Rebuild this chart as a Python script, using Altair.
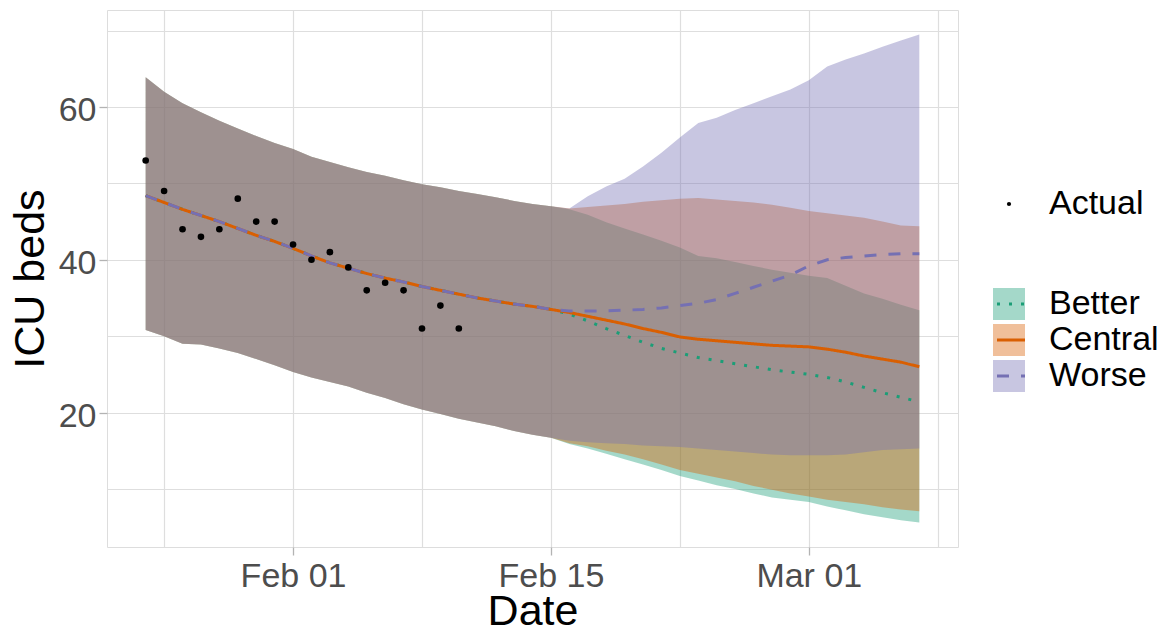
import altair as alt
import pandas as pd

# ---------------- data ----------------
scenarios = ["Better", "Central", "Worse"]
scen_colors = ["#1B9E77", "#D95F02", "#7570B3"]
scen_dashes = [[3, 9], [1, 0], [12, 12]]

# shared history (Jan 24 .. Feb 15, daily)
hist_start = "2021-01-24"
hist_mid = [48.4, 47.5, 46.6, 45.8, 45.0, 44.1, 43.2, 42.4, 41.5, 40.5, 39.6, 38.9,
            38.2, 37.6, 37.1, 36.5, 36.0, 35.5, 35.0, 34.6, 34.2, 33.9, 33.5]
hist_lo = [30.8, 30.0, 29.0, 28.9, 28.4, 27.8, 27.0, 26.2, 25.3, 24.6, 24.0, 23.4,
           22.6, 21.9, 21.1, 20.4, 19.8, 19.2, 18.7, 18.2, 17.6, 17.1, 16.7]
hist_hi = [63.9, 62.0, 60.5, 59.3, 58.2, 57.2, 56.2, 55.3, 54.5, 53.5, 52.8, 52.1,
           51.5, 51.0, 50.4, 49.9, 49.5, 49.0, 48.6, 48.2, 47.7, 47.3, 47.0]

# scenario projections (Feb 16 .. Mar 7, daily)
proj_start = "2021-02-16"
better_mid = [32.9, 32.0, 31.0, 30.1, 29.2, 28.4, 27.8, 27.2, 26.8, 26.4, 26.0, 25.6,
              25.3, 25.0, 24.6, 24.0, 23.3, 22.6, 22.0, 21.4]
better_lo = [15.9, 15.3, 14.6, 13.9, 13.2, 12.5, 11.7, 11.1, 10.5, 10.0, 9.4, 8.9,
             8.6, 8.3, 7.7, 7.2, 6.7, 6.3, 5.9, 5.6]
better_hi = [46.6, 45.9, 44.9, 44.1, 43.3, 42.5, 41.6, 40.5, 40.2, 39.7, 39.2, 38.7,
             38.3, 37.9, 37.6, 36.6, 35.6, 34.9, 34.1, 33.4]
central_mid = [33.1, 32.6, 32.1, 31.6, 31.0, 30.5, 29.9, 29.6, 29.4, 29.2, 29.0, 28.8,
               28.7, 28.6, 28.3, 27.9, 27.4, 27.0, 26.6, 26.0]
central_lo = [16.0, 15.6, 15.0, 14.5, 13.9, 13.2, 12.5, 12.0, 11.5, 11.0, 10.4, 9.9,
              9.4, 9.0, 8.6, 8.3, 8.0, 7.6, 7.3, 7.1]
central_hi = [46.7, 46.9, 47.1, 47.3, 47.6, 47.8, 48.0, 48.1, 47.9, 47.7, 47.5, 47.2,
              46.8, 46.4, 46.1, 45.8, 45.5, 45.0, 44.5, 44.4]
worse_mid = [33.3, 33.3, 33.3, 33.4, 33.5, 33.7, 34.0, 34.3, 34.8, 35.6, 36.4, 37.2,
             38.0, 39.2, 40.0, 40.3, 40.5, 40.7, 40.8, 40.8]
worse_lo = [16.3, 16.1, 16.0, 15.9, 15.7, 15.6, 15.5, 15.3, 15.1, 14.9, 14.7, 14.5,
            14.4, 14.4, 14.4, 14.5, 14.8, 15.1, 15.2, 15.3]
worse_hi = [46.7, 48.3, 49.6, 50.6, 52.2, 54.0, 56.0, 57.9, 58.6, 59.6, 60.5, 61.4,
            62.3, 63.5, 65.3, 66.2, 67.0, 67.9, 68.7, 69.5]

# observed ICU beds (Jan 24 .. Feb 10, daily)
actual_start = "2021-01-24"
actual_beds = [53, 49, 44, 43, 44, 48, 45, 45, 42, 40, 41, 39, 36, 37, 36, 31, 34, 31]

# axis tick positions
x_grid_dates = ["2021-01-25", "2021-02-01", "2021-02-08", "2021-02-15",
                "2021-02-22", "2021-03-01", "2021-03-08"]
y_grid_values = [10, 20, 30, 40, 50, 60, 70]

# ---------------- tables ----------------
def days(start, n):
    return pd.date_range(start, periods=n, freq="D").strftime("%Y-%m-%d").tolist()

proj = {
    "Better": (better_lo, better_mid, better_hi),
    "Central": (central_lo, central_mid, central_hi),
    "Worse": (worse_lo, worse_mid, worse_hi),
}
rows = []
hd = days(hist_start, len(hist_mid))
for s in scenarios:
    lo, mid, hi = proj[s]
    pdays = days(proj_start, len(mid))
    for d, a, m, b in zip(hd + pdays, hist_lo + lo, hist_mid + mid, hist_hi + hi):
        rows.append({"date": d, "scenario": s, "lo": a, "mid": m, "hi": b})
bands = pd.DataFrame(rows)

actual = pd.DataFrame({"date": days(actual_start, len(actual_beds)),
                       "beds": actual_beds, "series": "Actual"})

def ms(d):
    return int(pd.Timestamp(d, tz="UTC").value // 10**6)

all_ms = [ms(d) for d in bands["date"]]
span = max(all_ms) - min(all_ms)
x_dom = [min(all_ms) - 0.05 * span, max(all_ms) + 0.05 * span]
y_all = list(bands["lo"]) + list(bands["hi"]) + actual_beds
y_span = max(y_all) - min(y_all)
y_dom = [min(y_all) - 0.05 * y_span, max(y_all) + 0.05 * y_span]

# ---------------- encodings ----------------
FONT = "Liberation Sans"
major_x = "(utcdate(datum.value) == 1 || utcdate(datum.value) == 15)"
major_y = "(datum.value % 20 == 0)"

x_axis = alt.Axis(
    values=[ms(d) for d in x_grid_dates],
    labelExpr=f"{major_x} ? utcFormat(datum.value, '%b %d') : ''",
    tickOpacity={"condition": {"test": major_x, "value": 1}, "value": 0},
    labelFontSize=34, labelColor="#4D4D4D", labelFont=FONT, labelPadding=4,
    titleFontSize=43, titleFont=FONT, titleColor="black", titleFontWeight="normal",
    titleBaseline="alphabetic", titleY=77,
    tickSize=8, tickColor="#B3B3B3", tickWidth=1.3,
    grid=True, gridColor="#DEDEDE", gridWidth=1.2, domain=False,
)
y_axis = alt.Axis(
    values=y_grid_values,
    labelExpr=f"{major_y} ? datum.label : ''",
    tickOpacity={"condition": {"test": major_y, "value": 1}, "value": 0},
    labelFontSize=34, labelColor="#4D4D4D", labelFont=FONT, labelPadding=3,
    labelOffset=4,
    titleFontSize=43, titleFont=FONT, titleColor="black", titleFontWeight="normal",
    titleBaseline="alphabetic", titleX=-64, titleAngle=270,
    tickSize=8, tickColor="#B3B3B3", tickWidth=1.3,
    grid=True, gridColor="#DEDEDE", gridWidth=1.2, domain=False,
)
x_scale = alt.Scale(type="utc", domain=x_dom, nice=False)
y_scale = alt.Scale(domain=y_dom, nice=False, zero=False)

def X():
    return alt.X("date:T", scale=x_scale, axis=x_axis, title="Date")

def Y(field):
    return alt.Y(field, scale=y_scale, axis=y_axis, title="ICU beds")

leg_common = dict(title=None, orient="none", labelFontSize=34, labelFont=FONT,
                  labelColor="black", padding=0, rowPadding=2)

band_layer = alt.Chart(bands).mark_area(opacity=0.4).encode(
    x=X(), y=Y("lo:Q"), y2="hi:Q",
    fill=alt.Fill("scenario:N",
                  scale=alt.Scale(domain=scenarios, range=scen_colors),
                  legend=alt.Legend(symbolType="square", symbolSize=1024,
                                    symbolOpacity=0.4, symbolStrokeWidth=0,
                                    labelOffset=23, legendX=885, legendY=277,
                                    **leg_common)),
)

line_legend = dict(symbolType="stroke", symbolSize=784, symbolStrokeWidth=3,
                   labelOffset=23, labelOpacity=0, legendX=887, legendY=277,
                   **leg_common)
line_layer = alt.Chart(bands).mark_line(strokeWidth=3).encode(
    x=X(), y=Y("mid:Q"),
    stroke=alt.Stroke("scenario:N", scale=alt.Scale(range=scen_colors),
                      legend=alt.Legend(**line_legend)),
    strokeDash=alt.StrokeDash("scenario:N", scale=alt.Scale(range=scen_dashes),
                              legend=alt.Legend(**line_legend)),
)

point_layer = alt.Chart(actual).mark_point(filled=True, size=44, opacity=1,
                                           color="black").encode(
    x=X(), y=Y("beds:Q"),
    shape=alt.Shape("series:N",
                    scale=alt.Scale(domain=["Actual"], range=["circle"]),
                    legend=alt.Legend(symbolSize=18, symbolFillColor="black",
                                      symbolStrokeWidth=0, labelOffset=23,
                                      legendX=885, legendY=177, **leg_common)),
)

chart = alt.layer(band_layer, line_layer, point_layer).properties(
    width=851, height=537,
    autosize=alt.AutoSizeParams(type="none"),
    padding={"left": 99, "top": 2, "right": 203, "bottom": 78},
).configure_view(stroke="#BDBDBD", strokeWidth=1.3).configure(background="white")

chart.save("out.html", embed_options={"renderer": "svg", "actions": False})
